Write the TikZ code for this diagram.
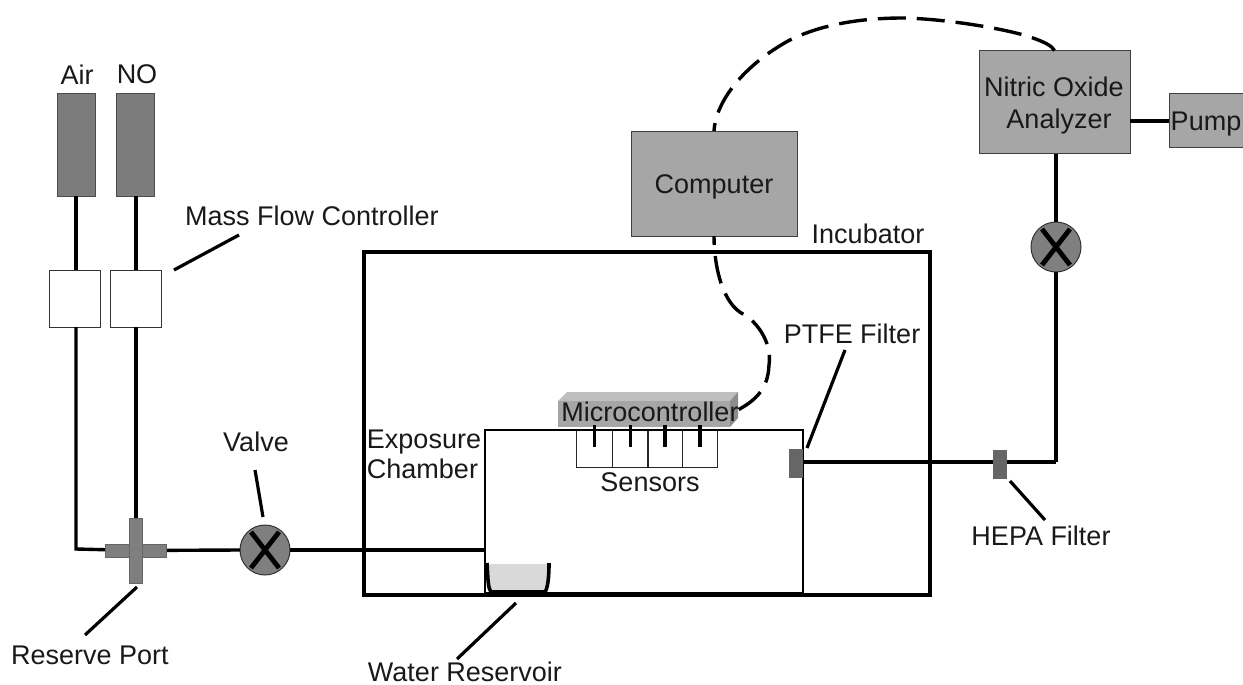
\documentclass[tikz,border=0pt]{standalone}
\usepackage{fontspec}
\setmainfont{Liberation Sans}
\usetikzlibrary{calc}
\definecolor{boxgray}{HTML}{A6A6A6}
\definecolor{valvegray}{HTML}{7F7F7F}
\definecolor{cyl}{HTML}{7C7C7C}
\definecolor{filtc}{HTML}{666666}
\definecolor{mcu}{HTML}{A6A6A6}
\definecolor{mcutop}{HTML}{BFBFBF}
\definecolor{mcuside}{HTML}{8C8C8C}
\tikzset{
  x=1pt,y=-1pt,
  lbl/.style={inner sep=0pt,outer sep=0pt,font=\fontsize{27}{30}\selectfont,align=center,text=black!90},
  pipe/.style={line width=3.4pt,black},
  leader/.style={line width=3.2pt,black},
  wire/.style={line width=3.4pt,black,dash pattern=on 28pt off 11pt},
  gbox/.style={draw=black!75,line width=1pt,fill=boxgray,inner sep=0pt,outer sep=0pt},
  cylbox/.style={draw=black!70,line width=1pt,fill=cyl,minimum width=38pt,minimum height=102pt,inner sep=0pt,outer sep=0pt},
  mfc/.style={draw=black!80,line width=1pt,fill=white,minimum width=51pt,minimum height=57pt,inner sep=0pt,outer sep=0pt},
  valve/.style={circle,draw=black!80,line width=1pt,fill=valvegray,minimum size=50pt,inner sep=0pt,outer sep=0pt},
  xmark/.style={line width=4.8pt,black},
  filt/.style={fill=filtc,draw=none,inner sep=0pt,outer sep=0pt},
  sens/.style={draw=black!85,line width=1pt,fill=white,minimum height=37pt,inner sep=0pt,outer sep=0pt},
}
\begin{document}
\begin{tikzpicture}
\useasboundingbox (0,0) rectangle (1243,685);
% enclosures
\node[draw=black,line width=4.4pt,minimum width=566pt,minimum height=343pt,inner sep=0pt,outer sep=0pt] (incubator) at (647,423.5) {};
\node[draw=black,line width=2pt,fill=white,minimum width=318pt,minimum height=163pt,inner sep=0pt,outer sep=0pt] (chamber) at (644,511.5) {};
% cylinders and controllers
\node[cylbox] (air) at (76,145) {};
\node[cylbox] (no) at (135,145) {};
\node[mfc] (mfcA) at (74.5,298.5) {};
\node[mfc] (mfcB) at (135.5,298.5) {};
% boxes
\node[gbox,minimum width=166pt,minimum height=105pt] (computer) at (714,183.5) {};
\node[gbox,minimum width=151pt,minimum height=103pt] (analyzer) at (1054.5,102) {};
\node[gbox,minimum width=74pt,minimum height=53pt] (pump) at (1206,120.5) {};
% valves
\node[valve] (v1) at (265,550) {};
\node[valve] (v2) at (1056,247) {};
\coordinate (port) at (135.5,550.5);
\coordinate (jA) at (76,549);
\coordinate (jR) at (1056,462);
% pipes
\draw[pipe] (air.south) -- (mfcA.north -| air.south);
\draw[pipe] (no.south) ++(1,0) -- (136,270);
\draw[pipe] (76,327) -- (jA) -- (port);
\draw[pipe] (136,327) -- (136,520);
\draw[pipe] (port) -- (v1.west);
\draw[pipe] (v1.east) -- (v1.east -| chamber.west);
\draw[pipe] (v2 |- analyzer.south) -- (v2.north);
\draw[pipe] (v2.south) -- (jR);
\draw[pipe] (jR) -- (chamber.east |- jR);
\draw[line width=4pt,black] (analyzer.east |- pump.west) -- (pump.west);
% port cross shape
\node[draw=black!60,line width=1pt,fill=valvegray,minimum width=61pt,minimum height=13pt,inner sep=0pt] (portH) at (port) {};
\node[draw=black!60,line width=1pt,fill=valvegray,minimum width=13pt,minimum height=65pt,inner sep=0pt] (portV) at (port) {};
\fill[valvegray] ($(port)+(-6,-6)$) rectangle ($(port)+(6,6)$);
% valve crosses
\draw[xmark] ($(v1)+(-14,18)$) -- ($(v1)+(14,-18)$);
\draw[xmark] ($(v1)+(-14,-18)$) -- ($(v1)+(14,18)$);
\draw[xmark] ($(v2)+(-14,18)$) -- ($(v2)+(14,-18)$);
\draw[xmark] ($(v2)+(-14,-18)$) -- ($(v2)+(14,18)$);
% filters
\node[filt,minimum width=14pt,minimum height=29pt] (ptfe) at (796,463.5) {};
\node[filt,minimum width=14pt,minimum height=29pt] (hepa) at (1000,464.5) {};
% sensors
\node[sens,minimum width=35.5pt] (s1) at (594.7,448.5) {};
\node[sens,minimum width=35.5pt] (s2) at (630.2,448.5) {};
\node[sens,minimum width=34pt] (s3) at (665,448.5) {};
\node[sens,minimum width=35.5pt] (s4) at (700,448.5) {};
% microcontroller
\fill[mcutop] (558,401) -- (567,392) -- (738,392) -- (730,401) -- cycle;
\fill[mcuside] (730,401) -- (738,392) -- (738,418) -- (730,427) -- cycle;
\node[fill=mcu,minimum width=172pt,minimum height=26pt,inner sep=0pt,outer sep=0pt] (mc) at (644,414) {};
\draw[line width=2pt,black] (chamber.north west) -- (chamber.north east);
\node[lbl] (mclabel) at (650,412) {Microcontroller};
\foreach \s in {s1,s2,s3,s4}{
  \draw[line width=3.2pt,black] (\s.center |- 0,425) -- (\s.center |- 0,447);
}
% water reservoir
\fill[black!15] (488,564) rectangle (548,590);
\draw[line width=3.6pt,black] (487,563) .. controls (488,580) and (488,588) .. (491,592) -- (545,592) .. controls (548,588) and (549,576) .. (549,563);
% wires
\draw[wire,dash phase=20pt] (computer.north) .. controls (716,100) and (745,65) .. (788,41)
   .. controls (825,22) and (870,18) .. (903,18)
   .. controls (950,19) and (1010,30) .. (1030,37)
   .. controls (1045,42) and (1052,46) .. (analyzer.north);
\draw[wire,dash phase=19pt] (computer.south) .. controls (714,265) and (722,305) .. (745,315)
   .. controls (760,325) and (772,345) .. (769,365)
   .. controls (768,390) and (755,402) .. (mc.east);
% leaders
\coordinate (lm0) at (174,270);\coordinate (lm) at (239,235);
\draw[leader] (lm0) -- (lm);
\coordinate (lv0) at (263,517);\coordinate (lv) at (255,470);
\draw[leader] (lv0) -- (lv);
\coordinate (lr0) at (137,587);\coordinate (lr) at (85,635);
\draw[leader] (lr0) -- (lr);
\coordinate (lw0) at (516,603);\coordinate (lw) at (457,659);
\draw[leader] (lw0) -- (lw);
\coordinate (lp0) at (807,448);\coordinate (lp) at (845,350);
\draw[leader] (lp0) -- (lp);
\coordinate (lh0) at (1010,481);\coordinate (lh) at (1045,520);
\draw[leader] (lh0) -- (lh);
% labels
\node[lbl] (tComputer) at (714,187) {Computer};
\node[lbl] (tNitric) at (1054,87) {Nitric Oxide};
\node[lbl] (tAnalyzer) at (1059,122) {Analyzer};
\node[lbl] (tPump) at (1206,124) {Pump};
\node[lbl] (tAir) at (77,75) {Air};
\node[lbl] (tNO) at (137,74) {NO};
\node[lbl] (tMFC) at (312,216) {Mass Flow Controller};
\node[lbl] (tInc) at (868,234) {Incubator};
\node[lbl] (tPTFE) at (852,334) {PTFE Filter};
\node[lbl] (tHEPA) at (1041,536) {HEPA Filter};
\node[lbl] (tValve) at (256,442) {Valve};
\node[lbl,align=left] (tExp) at (424,454) {Exposure\\Chamber};
\node[lbl] (tSens) at (650,482) {Sensors};
\node[lbl] (tRes) at (90,655) {Reserve Port};
\node[lbl] (tWat) at (465,672) {Water Reservoir};
\end{tikzpicture}
\end{document}
